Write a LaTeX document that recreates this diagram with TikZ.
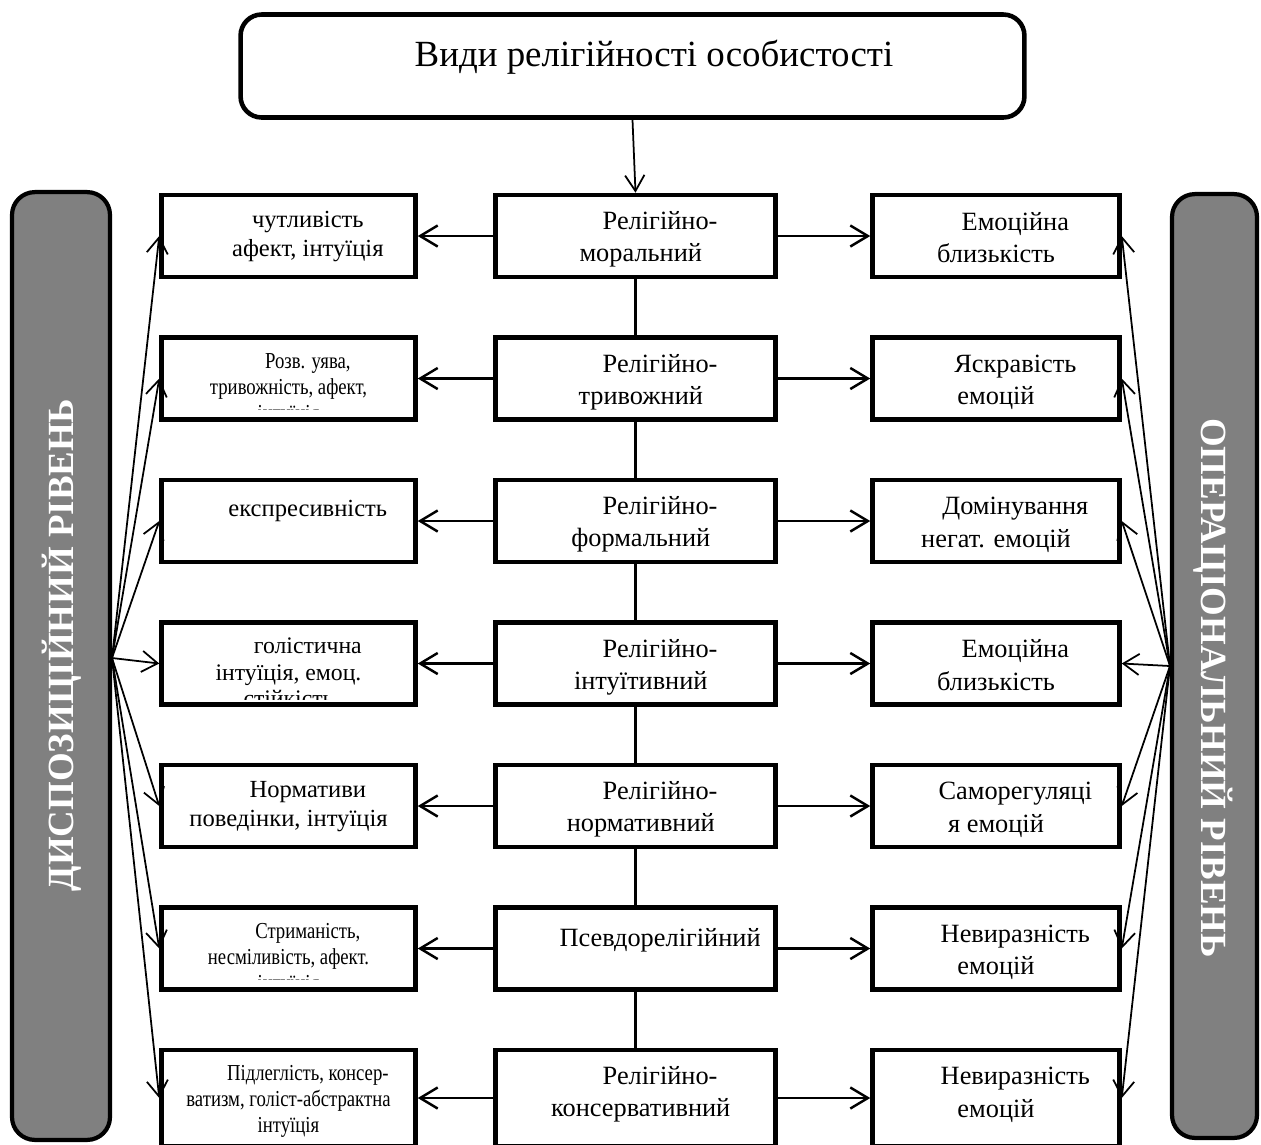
\documentclass[tikz,border=0pt]{standalone}
\usepackage{fontspec}
\setmainfont{Liberation Serif}
\newfontfamily\narrowfont[FakeStretch=0.82]{Liberation Serif}
\usetikzlibrary{arrows.meta,positioning}
\definecolor{levelgray}{RGB}{128,128,128}
\newcommand{\firstind}{\hspace*{22pt}}

\begin{document}
\begin{tikzpicture}[x=0.02cm, y=-0.02cm,
    cbox/.style={draw, fill=white, line width=2.6pt, minimum width=5.6cm, minimum height=1.64cm, inner sep=0pt},
    lbox/.style={cbox, minimum width=5.08cm},
    rbox/.style={cbox, minimum width=4.94cm},
    level/.style={draw, fill=levelgray, line width=2.4pt, rounded corners=13pt, inner sep=0pt},
    lvltxt/.style={text=white, font=\fontsize{21}{25}\selectfont\bfseries},
    txt/.style={anchor=north, align=center, inner sep=0pt, execute at begin node=\strut, font=\fontsize{15}{18.3}\selectfont},
    ltxt/.style={txt, font=\fontsize{14}{16.5}\selectfont},
    stxt/.style={txt, font=\narrowfont\fontsize{13}{14.8}\selectfont},
    link/.style={line width=1.4pt, -{Straight Barb[length=10pt,width=12pt]}},
    fan/.style={line width=1pt, -{Straight Barb[length=9pt,width=12pt]}}
  ]
  \useasboundingbox (0,0) rectangle (1261,1144);

  % title
  \node[draw, line width=2.6pt, rounded corners=12pt, minimum width=15.68cm, minimum height=2.06cm] (top) at (632.5,66) {};
  \node[font=\fontsize{21}{25}\selectfont, anchor=base, inner sep=0pt] (ttl) at (654,66) {Види релігійності особистості};

  % the two levels
  \node[level, minimum width=1.96cm, minimum height=18.96cm] (disp) at (61,666) {};
  \node[level, minimum width=1.7cm, minimum height=18.88cm] (oper) at (1214.5,666) {};
  \node[lvltxt, rotate=90] (displab) at (62,645) {ДИСПОЗИЦІЙНИЙ РІВЕНЬ};
  \node[lvltxt, rotate=-90] (operlab) at (1213,688) {ОПЕРАЦІОНАЛЬНИЙ РІВЕНЬ};
  \coordinate (lhub) at (112,658);
  \coordinate (rhub) at (1170,666);

  % types of religiosity
  \node[cbox] (c1) at (635.5,236) {};
  \node[cbox] (c2) at (635.5,378.5) {};
  \node[cbox] (c3) at (635.5,521) {};
  \node[cbox] (c4) at (635.5,663.5) {};
  \node[cbox] (c5) at (635.5,806) {};
  \node[cbox] (c6) at (635.5,948.5) {};
  \node[cbox, minimum height=1.92cm] (c7) at (635.5,1098) {};

  \node[txt, xshift=3pt] (c1t) at ([yshift=-10.5pt]c1.north) {\firstind Релігійно-\\моральний};
  \node[txt, xshift=3pt] (c2t) at ([yshift=-10.5pt]c2.north) {\firstind Релігійно-\\тривожний};
  \node[txt, xshift=3pt] (c3t) at ([yshift=-10.5pt]c3.north) {\firstind Релігійно-\\формальний};
  \node[txt, xshift=3pt] (c4t) at ([yshift=-10.5pt]c4.north) {\firstind Релігійно-\\інтуїтивний};
  \node[txt, xshift=3pt] (c5t) at ([yshift=-10.5pt]c5.north) {\firstind Релігійно-\\нормативний};
  \node[txt, xshift=3pt] (c6t) at ([yshift=-10.5pt]c6.north) {\firstind Псевдорелігійний};
  \node[txt, xshift=3pt] (c7t) at ([yshift=-10.5pt]c7.north) {\firstind Релігійно-\\консервативний};

  % dispositional side
  \node[lbox] (l1) at (288.5,236) {};
  \node[lbox] (l2) at (288.5,378.5) {};
  \node[lbox] (l3) at (288.5,521) {};
  \node[lbox] (l4) at (288.5,663.5) {};
  \node[lbox] (l5) at (288.5,806) {};
  \node[lbox] (l6) at (288.5,948.5) {};
  \node[lbox, minimum height=1.92cm] (l7) at (288.5,1098) {};

  \node[ltxt] (l1t) at ([yshift=-10.5pt]l1.north) {\firstind чутливість\\ \firstind афект, інтуїція};
  \begin{scope}
    \clip ([shift={(2pt,-2pt)}]l2.north west) rectangle ([shift={(-2pt,7pt)}]l2.south east);
    \node[stxt] (l2t) at ([yshift=-10pt]l2.north) {\firstind Розв. уява,\\тривожність, афект,\\інтуїція};
  \end{scope}
  \node[ltxt] (l3t) at ([yshift=-10.5pt]l3.north) {\firstind експресивність};
  \begin{scope}
    \clip ([shift={(2pt,-2pt)}]l4.north west) rectangle ([shift={(-2pt,4pt)}]l4.south east);
    \node[ltxt, font=\fontsize{13.5}{15}\selectfont] (l4t) at ([yshift=-10pt]l4.north) {\firstind голістична\\інтуїція, емоц.\\стійкість};
  \end{scope}
  \node[ltxt] (l5t) at ([yshift=-10.5pt]l5.north) {\firstind Нормативи\\поведінки, інтуїція};
  \begin{scope}
    \clip ([shift={(2pt,-2pt)}]l6.north west) rectangle ([shift={(-2pt,7pt)}]l6.south east);
    \node[stxt] (l6t) at ([yshift=-10pt]l6.north) {\firstind Стриманість,\\несміливість, афект.\\інтуїція};
  \end{scope}
  \node[stxt] (l7t) at ([yshift=-10pt]l7.north) {\firstind Підлеглість, консер-\\ватизм, голіст-абстрактна\\інтуїція};

  % operational side
  \node[rbox] (r1) at (996,236) {};
  \node[rbox] (r2) at (996,378.5) {};
  \node[rbox] (r3) at (996,521) {};
  \node[rbox] (r4) at (996,663.5) {};
  \node[rbox] (r5) at (996,806) {};
  \node[rbox] (r6) at (996,948.5) {};
  \node[rbox, minimum height=1.92cm] (r7) at (996,1098) {};

  \node[txt] (r1t) at ([yshift=-11pt]r1.north) {\firstind Емоційна\\близькість};
  \node[txt] (r2t) at ([yshift=-11pt]r2.north) {\firstind Яскравість\\емоцій};
  \node[txt] (r3t) at ([yshift=-11pt]r3.north) {\firstind Домінування\\негат. емоцій};
  \node[txt] (r4t) at ([yshift=-11pt]r4.north) {\firstind Емоційна\\близькість};
  \node[txt] (r5t) at ([yshift=-11pt]r5.north) {\firstind Саморегуляці\\я емоцій};
  \node[txt] (r6t) at ([yshift=-11pt]r6.north) {\firstind Невиразність\\емоцій};
  \node[txt] (r7t) at ([yshift=-11pt]r7.north) {\firstind Невиразність\\емоцій};

  % connectors
  \draw[line width=1pt, -{Straight Barb[length=9pt,width=11pt]}] (top.south) -- (c1.north);
  \draw[line width=1.3pt] (c1) -- (c2) (c2) -- (c3) (c3) -- (c4) (c4) -- (c5) (c5) -- (c6) (c6) -- (c7);

  \draw[link] (c1.west) -- (l1.east);
  \draw[link] (c2.west) -- (l2.east);
  \draw[link] (c3.west) -- (l3.east);
  \draw[link] (c4.west) -- (l4.east);
  \draw[link] (c5.west) -- (l5.east);
  \draw[link] (c6.west) -- (l6.east);
  \draw[link] (c7.west) -- (l7.east);

  \draw[link] (c1.east) -- (r1.west);
  \draw[link] (c2.east) -- (r2.west);
  \draw[link] (c3.east) -- (r3.west);
  \draw[link] (c4.east) -- (r4.west);
  \draw[link] (c5.east) -- (r5.west);
  \draw[link] (c6.east) -- (r6.west);
  \draw[link] (c7.east) -- (r7.west);

  \draw[fan] (lhub) -- (l1.west);
  \draw[fan] (lhub) -- (l2.west);
  \draw[fan] (lhub) -- (l3.west);
  \draw[fan] (lhub) -- (l4.west);
  \draw[fan] (lhub) -- (l5.west);
  \draw[fan] (lhub) -- (l6.west);
  \draw[fan] (lhub) -- (l7.west);

  \draw[fan] (rhub) -- (r1.east);
  \draw[fan] (rhub) -- (r2.east);
  \draw[fan] (rhub) -- (r3.east);
  \draw[fan] (rhub) -- (r4.east);
  \draw[fan] (rhub) -- (r5.east);
  \draw[fan] (rhub) -- (r6.east);
  \draw[fan] (rhub) -- (r7.east);
\end{tikzpicture}
\end{document}
